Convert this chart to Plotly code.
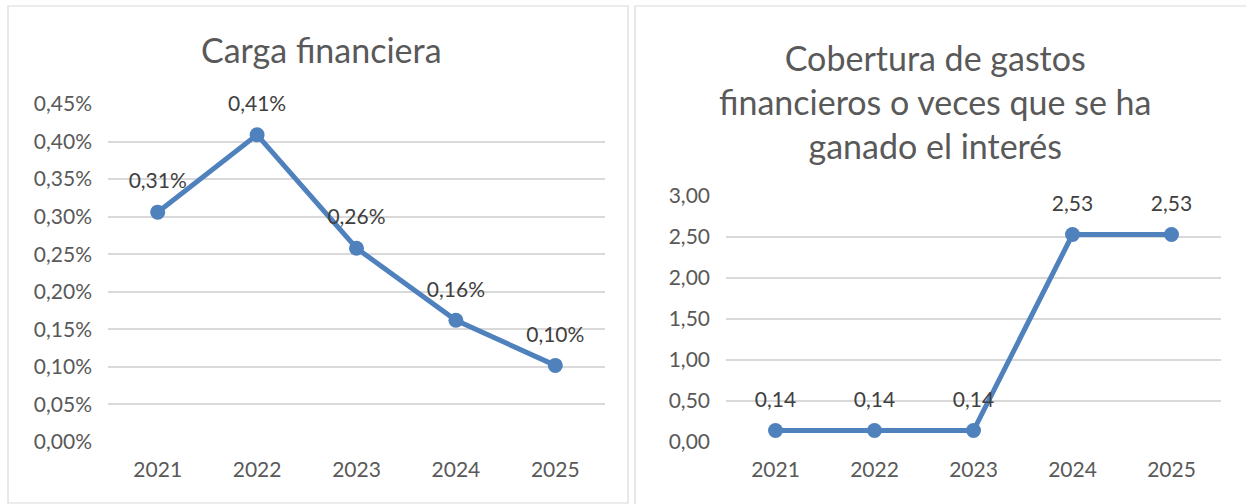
import plotly.graph_objects as go

W, H = 1246, 504

years = ["2021", "2022", "2023", "2024", "2025"]
carga = [0.00306, 0.00409, 0.00258, 0.00162, 0.00102]
carga_labels = ["0,31%", "0,41%", "0,26%", "0,16%", "0,10%"]
cobertura = [0.14, 0.14, 0.14, 2.53, 2.53]
cobertura_labels = ["0,14", "0,14", "0,14", "2,53", "2,53"]
carga_ticks = [i * 0.0005 for i in range(10)]
carga_ticktext = ["0,00%", "0,05%", "0,10%", "0,15%", "0,20%", "0,25%", "0,30%", "0,35%", "0,40%", "0,45%"]
cob_ticks = [0, 0.5, 1, 1.5, 2, 2.5, 3]
cob_ticktext = ["0,00", "0,50", "1,00", "1,50", "2,00", "2,50", "3,00"]

BLUE = "#4F81BD"
FONT = "Lato"


def px_x(v):
    return v / W


def px_y(v):
    return 1 - v / H


fig = go.Figure()
for xa, ya, vals, labels in [("x", "y", carga, carga_labels), ("x2", "y2", cobertura, cobertura_labels)]:
    fig.add_trace(go.Scatter(
        x=years, y=vals, mode="lines+markers",
        line=dict(color=BLUE, width=5), marker=dict(size=15, color=BLUE),
        cliponaxis=False, xaxis=xa, yaxis=ya, showlegend=False, hoverinfo="skip",
    ))
    # labels sit a bit higher than plotly's default offset, like Excel's
    fig.add_trace(go.Scatter(
        x=years, y=vals, text=labels, mode="markers+text",
        textposition="top center", textfont=dict(size=21, color="#404040"),
        marker=dict(size=28, color="rgba(0,0,0,0)"),
        cliponaxis=False, xaxis=xa, yaxis=ya, showlegend=False,
    ))

axis_common = dict(showline=False, zeroline=False, ticks="", automargin=False,
                   tickfont=dict(size=21, color="#595959"))

fig.update_layout(
    width=W, height=H,
    margin=dict(l=0, r=0, t=0, b=0),
    paper_bgcolor="white", plot_bgcolor="white",
    font=dict(family=FONT, color="#595959"),
    xaxis=dict(domain=[px_x(108), px_x(605)], range=[-0.5, 4.5], type="category",
               showgrid=False, anchor="y", ticklabelstandoff=13, **axis_common),
    yaxis=dict(domain=[px_y(442), px_y(104)], range=[0, 0.0045], tickvals=carga_ticks,
               ticktext=carga_ticktext, gridcolor="#d9d9d9", gridwidth=1.5, anchor="x",
               ticklabelstandoff=15, **axis_common),
    xaxis2=dict(domain=[px_x(726), px_x(1221)], range=[-0.5, 4.5], type="category",
                showgrid=False, anchor="y2", ticklabelstandoff=13, **axis_common),
    yaxis2=dict(domain=[px_y(442), px_y(196)], range=[0, 3], tickvals=cob_ticks,
                ticktext=cob_ticktext, gridcolor="#d9d9d9", gridwidth=1.5, anchor="x2",
                ticklabelstandoff=15, **axis_common),
)

# chart borders
fig.add_shape(type="rect", xref="paper", yref="paper",
              x0=px_x(8), x1=px_x(628), y0=px_y(503), y1=px_y(6),
              line=dict(color="#d9d9d9", width=1.2))
fig.add_shape(type="path", xref="paper", yref="paper",
              path=f"M {px_x(635)} 0 L {px_x(635)} {px_y(6)} L 1 {px_y(6)}",
              line=dict(color="#d9d9d9", width=1.2))

fig.add_annotation(text="Carga financiera", xref="paper", yref="paper",
                   x=px_x(321), y=px_y(50), xanchor="center", yanchor="middle",
                   showarrow=False, font=dict(size=34, color="#595959", family=FONT))
fig.add_annotation(text="Cobertura de gastos<br>financieros o veces que se ha<br>ganado el interés",
                   xref="paper", yref="paper", x=px_x(935), y=px_y(102),
                   xanchor="center", yanchor="middle", showarrow=False,
                   font=dict(size=34, color="#595959", family=FONT))

fig.write_html("out.html", config={"displayModeBar": False},
               post_script="document.body.style.margin='0';")
